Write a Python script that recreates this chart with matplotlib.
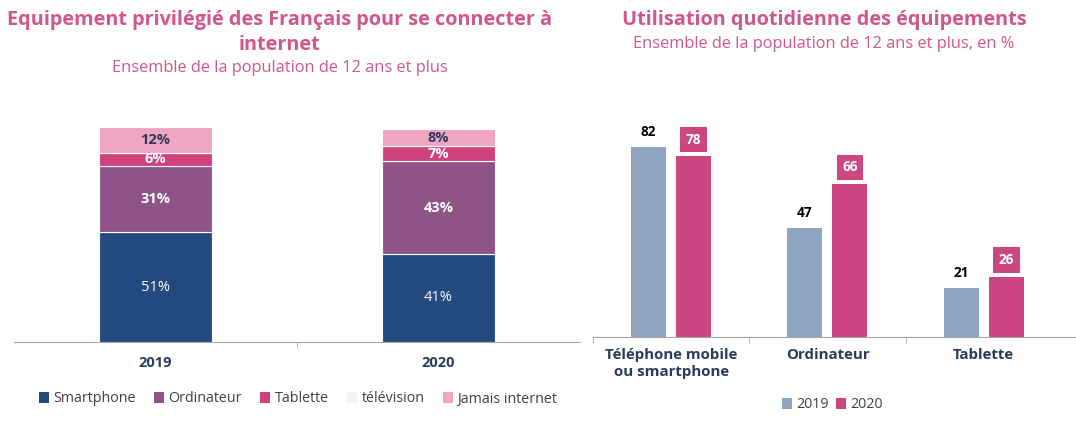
import numpy as np
import matplotlib.pyplot as plt
from matplotlib.patches import Patch

plt.rcParams['font.family'] = ['Open Sans', 'DejaVu Sans']

# left chart data
years = ['2019', '2020']
equip = ['Smartphone', 'Ordinateur', 'Tablette', 'télévision', 'Jamais internet']
smartphone = [51, 41]
ordinateur = [31, 43]
tablette = [6, 7]
television = [0, 0]
jamais = [12, 8]

# right chart data
devices = ['Téléphone mobile\nou smartphone', 'Ordinateur', 'Tablette']
usage_2019 = [82, 47, 21]
usage_2020 = [78, 66, 26]

PINK = '#d1568a'
NAVY = '#2b3b5c'
seg_colors = ['#234a7f', '#8e5487', '#d0427c', '#f2f2f2', '#f0a6c3']
c2019 = '#8fa4c0'
c2020 = '#cc4681'

W, H = 1076, 443
fig = plt.figure(figsize=(W / 100, H / 100), dpi=100)


def px_axes(x0, y0, x1, y1):
    return fig.add_axes([x0 / W, 1 - y1 / H, (x1 - x0) / W, (y1 - y0) / H])


# ---- left: stacked bars
ax1 = px_axes(14, 127, 580, 342)
series = [smartphone, ordinateur, tablette, television, jamais]
lab_style = [('white', 'normal'), ('white', 'bold'), ('white', 'bold'), None, (NAVY, 'bold')]
x = np.arange(len(years))
bottom = np.zeros(len(years))
for vals, col, st in zip(series, seg_colors, lab_style):
    vals = np.array(vals, dtype=float)
    ax1.bar(x, vals, 0.4, bottom=bottom, color=col, edgecolor='white', linewidth=0.8)
    if st is not None:
        for xi, b, v in zip(x, bottom, vals):
            ax1.text(xi, b + v / 2, f'{int(v)}%', ha='center', va='center',
                     color=st[0], fontweight=st[1], fontsize=10.5)
    bottom += vals
ax1.set_xlim(-0.5, 1.5)
ax1.set_ylim(0, 100)
ax1.set_xticks(x)
ax1.set_xticklabels(years, fontweight='bold', fontsize=10.5, color=NAVY)
ax1.set_xticks([0.5], minor=True)
ax1.tick_params(axis='x', which='major', length=0, pad=10)
ax1.tick_params(axis='x', which='minor', length=4, color='#a6a6a6')
ax1.set_yticks([])
for s in ['left', 'right', 'top']:
    ax1.spines[s].set_visible(False)
ax1.spines['bottom'].set_color('#a6a6a6')

handles = [Patch(facecolor=c, edgecolor='none') for c in seg_colors]
fig.legend(handles, equip, loc='center', bbox_to_anchor=(298 / W, 1 - 399 / H),
           ncol=5, frameon=False, fontsize=10.3, handlelength=0.7, handleheight=0.7,
           handletextpad=0.3, columnspacing=1.3, labelcolor='#404040')

fig.text(280 / W, 1 - 20 / H, 'Equipement privilégié des Français pour se connecter à',
         ha='center', va='center', color=PINK, fontweight='bold', fontsize=14.3)
fig.text(280 / W, 1 - 45 / H, 'internet',
         ha='center', va='center', color=PINK, fontweight='bold', fontsize=14.3)
fig.text(280 / W, 1 - 68 / H, 'Ensemble de la population de 12 ans et plus',
         ha='center', va='center', color=PINK, fontsize=11.8)

# ---- right: grouped bars
ax2 = px_axes(593, 110, 1076, 337)
xg = np.arange(len(devices))
off = 0.144
bw = 0.224
ax2.bar(xg - off, usage_2019, bw, color=c2019, label='2019')
ax2.bar(xg + off, usage_2020, bw, color=c2020, label='2020')
for xi, v in zip(xg, usage_2019):
    ax2.annotate(str(v), (xi - off, v), xytext=(0, 11), textcoords='offset points',
                 ha='center', va='center', fontweight='bold', fontsize=9.8, color='black')
for xi, v in zip(xg, usage_2020):
    ax2.annotate(str(v), (xi + off, v), xytext=(0, 12), textcoords='offset points',
                 ha='center', va='center', fontweight='bold', fontsize=9.8, color='white',
                 bbox=dict(boxstyle='square,pad=0.42', facecolor=c2020, edgecolor='none'))
ax2.set_xlim(-0.5, 2.59)
ax2.set_ylim(0, 98)
ax2.set_xticks(xg)
ax2.set_xticklabels(devices, fontweight='bold', fontsize=10.8, color=NAVY, linespacing=1.3)
ax2.set_xticks([-0.5, 0.5, 1.5], minor=True)
ax2.tick_params(axis='x', which='major', length=0, pad=8)
ax2.tick_params(axis='x', which='minor', length=4, color='#a6a6a6')
ax2.set_yticks([])
for s in ['left', 'right', 'top']:
    ax2.spines[s].set_visible(False)
ax2.spines['bottom'].set_color('#a6a6a6')

fig.legend(*ax2.get_legend_handles_labels(), loc='center', bbox_to_anchor=(832 / W, 1 - 405 / H),
           ncol=2, frameon=False, fontsize=10.3, handlelength=0.7, handleheight=0.7,
           handletextpad=0.3, columnspacing=0.5, labelcolor='#404040')

fig.text(824 / W, 1 - 20 / H, 'Utilisation quotidienne des équipements',
         ha='center', va='center', color=PINK, fontweight='bold', fontsize=14.3)
fig.text(824 / W, 1 - 44 / H, 'Ensemble de la population de 12 ans et plus, en %',
         ha='center', va='center', color=PINK, fontsize=11.8)

fig.savefig('out.png', dpi=100)
